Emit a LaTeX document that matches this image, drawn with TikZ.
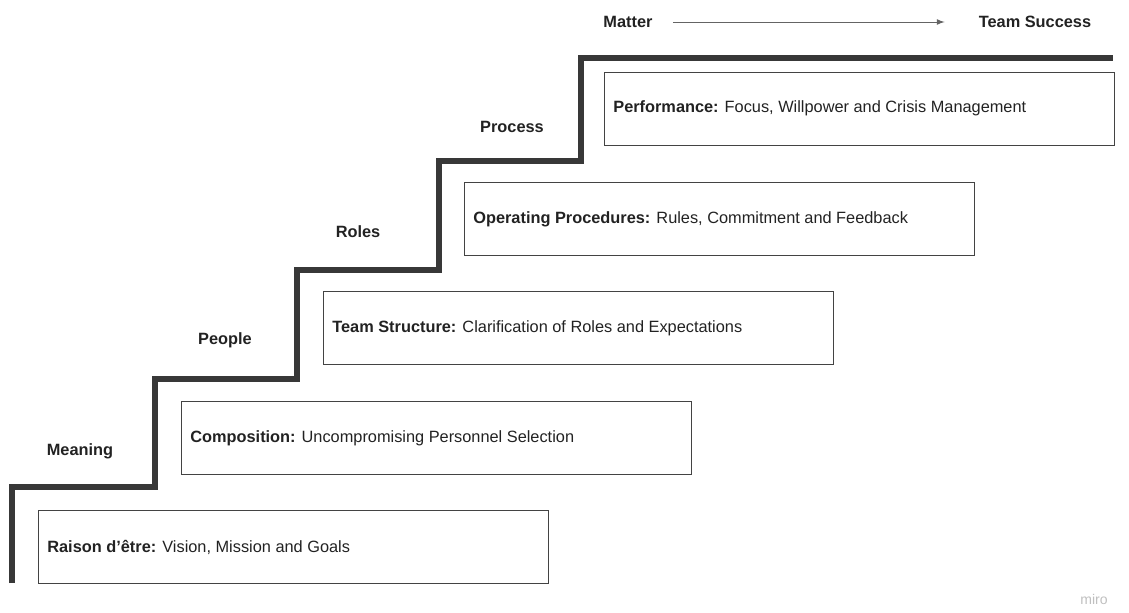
\documentclass[tikz,border=0pt]{standalone}
\usepackage{fontspec}
\setmainfont{Liberation Sans}
\usetikzlibrary{arrows}
\definecolor{ink}{HTML}{222222}
\tikzstyle{stepbox} = [rectangle, draw=ink!85, line width=0.8pt, minimum width=10.2cm, minimum height=1.46cm, anchor=north west, inner sep=0pt]
\tikzstyle{boxtext} = [anchor=west, text=ink, font=\fontsize{9.3}{11}\selectfont, inner sep=0pt]
\tikzstyle{stage} = [text=ink, font=\fontsize{9.3}{11}\selectfont\bfseries, inner sep=0pt]
\tikzstyle{stair} = [line width=2.9pt, draw=ink!90]
\tikzstyle{arrow} = [ink!70, line width=0.5pt, ->, >=latex]

\begin{document}
\begin{tikzpicture}[x=0.02cm, y=-0.02cm]
        \useasboundingbox (0,0) rectangle (1129,612);

        % boxes, one per step
        \node (raison) [stepbox] at (38,510) {};
        \node (comp) [stepbox] at (181,401) {};
        \node (struct) [stepbox] at (323,291) {};
        \node (proc) [stepbox] at (464,182) {};
        \node (perf) [stepbox] at (604,72) {};

        \node [boxtext] at ([xshift=0.18cm]raison.west) {\textbf{Raison d’être:} Vision, Mission and Goals};
        \node [boxtext] at ([xshift=0.18cm]comp.west) {\textbf{Composition:} Uncompromising Personnel Selection};
        \node [boxtext] at ([xshift=0.18cm]struct.west) {\textbf{Team Structure:} Clarification of Roles and Expectations};
        \node [boxtext] at ([xshift=0.18cm]proc.west) {\textbf{Operating Procedures:} Rules, Commitment and Feedback};
        \node [boxtext] at ([xshift=0.18cm,yshift=0.02cm]perf.west) {\textbf{Performance:} Focus, Willpower and Crisis Management};

        % stage labels
        \node (meaning) [stage] at (80,451) {Meaning};
        \node (people) [stage] at (225,340) {People};
        \node (roles) [stage] at (358,232) {Roles};
        \node (process) [stage] at (512,127) {Process};

        % the staircase
        \draw [stair] (12,583) |- (155,487) |- (297,379) |- (439,270) |- (581,161) |- (1113,58);

        % top arrow
        \node (matter) [stage] at (628,22) {Matter};
        \node (success) [stage] at (1035,22) {Team Success};
        \draw [arrow] ([xshift=0.4cm]matter.east) -- ([xshift=-0.68cm]success.west);

        \node (miro) [text=black!25, font=\fontsize{8}{9}\selectfont, inner sep=0pt] at (1094,599) {miro};
        \end{tikzpicture}
\end{document}
